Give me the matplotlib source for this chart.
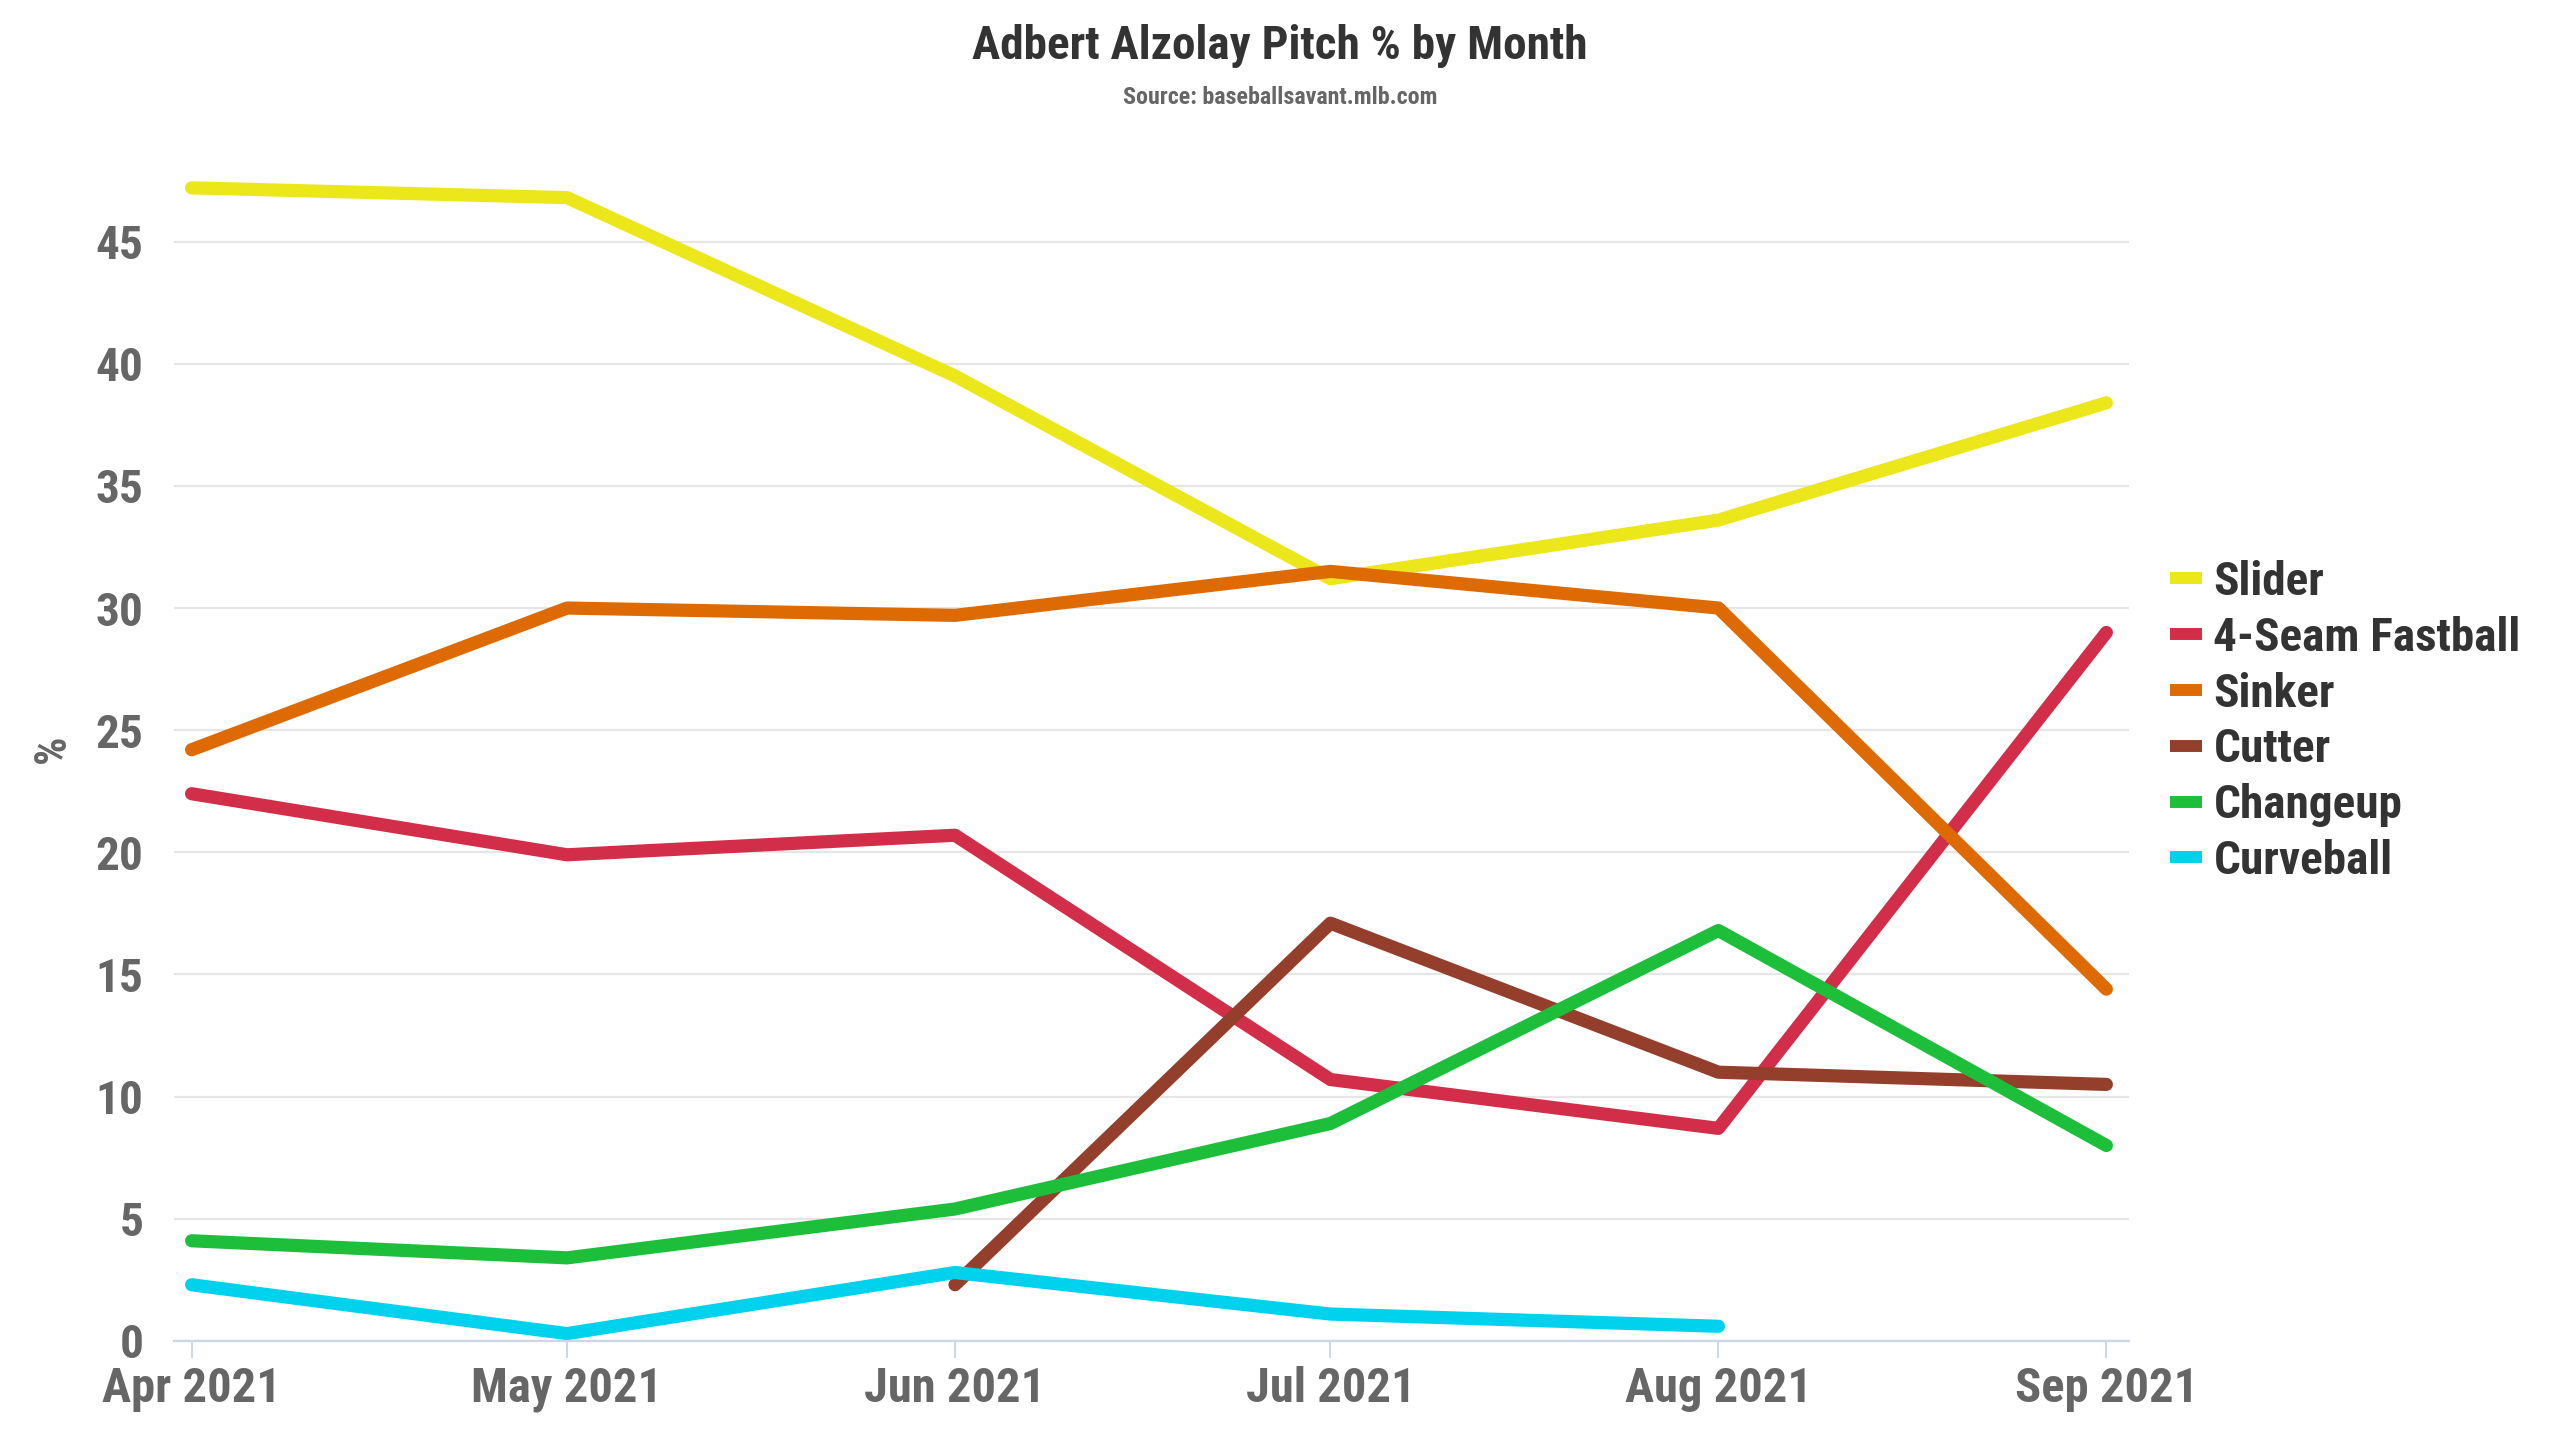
import numpy as np
import pandas as pd
import matplotlib
matplotlib.use("Agg")
import matplotlib.pyplot as plt
import matplotlib.dates as mdates
from matplotlib import font_manager
from matplotlib.lines import Line2D

# data
months = ["2021-04-01", "2021-05-01", "2021-06-01", "2021-07-01", "2021-08-01", "2021-09-01"]
pitch_names = ["Slider", "4-Seam Fastball", "Sinker", "Cutter", "Changeup", "Curveball"]
slider = [47.2, 46.8, 39.5, 31.2, 33.6, 38.4]
fastball = [22.4, 19.9, 20.7, 10.7, 8.7, 29.0]
sinker = [24.2, 30.0, 29.7, 31.5, 30.0, 14.4]
cutter = [np.nan, np.nan, 2.3, 17.1, 11.0, 10.5]
changeup = [4.1, 3.4, 5.4, 8.9, 16.8, 8.0]
curveball = [2.3, 0.3, 2.8, 1.1, 0.6, np.nan]
pitch_colors = ["#EBE71A", "#D22D49", "#DE6A04", "#933F2C", "#1DBE3A", "#00D1ED"]

title = "Adbert Alzolay Pitch % by Month"
subtitle = "Source: baseballsavant.mlb.com"

# fonts: condensed looks
names = {f.name for f in font_manager.fontManager.ttflist}
head_font = "Roboto Condensed" if "Roboto Condensed" in names else "Liberation Sans Narrow"
tick_font = "Liberation Sans Narrow" if "Liberation Sans Narrow" in names else head_font

dates = pd.to_datetime(months)
series = [slider, fastball, sinker, cutter, changeup, curveball]

fig = plt.figure(figsize=(25.6, 14.4), dpi=100)
ax = fig.add_axes([0.068, 0.0688, 0.7636, 0.8228])

for vals, name, col in zip(series, pitch_names, pitch_colors):
    ax.plot(dates, vals, color=col, lw=9.5, label=name,
            solid_capstyle="round", solid_joinstyle="round", clip_on=False)

ax.set_ylim(0, 48.5)
ax.set_xlim(dates[0] - pd.Timedelta(days=1.4), dates[-1] + pd.Timedelta(days=1.8))
ax.set_yticks(np.arange(0, 50, 5))
ax.set_xticks(dates)
ax.xaxis.set_major_formatter(mdates.DateFormatter("%b %Y"))

ax.grid(axis="y", color="#e6e6e6", lw=1.6)
ax.set_axisbelow(True)
for s in ["top", "right", "left"]:
    ax.spines[s].set_visible(False)
ax.spines["bottom"].set_color("#ccd6eb")
ax.spines["bottom"].set_linewidth(1.6)

ax.tick_params(axis="x", length=12, width=1.4, color="#ccd6eb", pad=6,
               labelsize=35, labelcolor="#666666")
ax.tick_params(axis="y", length=0, pad=22, labelsize=34, labelcolor="#666666")
for lab in ax.get_xticklabels() + ax.get_yticklabels():
    lab.set_fontfamily(tick_font)
    lab.set_fontweight("bold")

ax.set_ylabel("%", fontsize=32, color="#666666", fontweight="bold",
              fontfamily=tick_font, labelpad=16)

fig.text(0.5, 0.968, title, ha="center", va="center", fontsize=34,
         fontweight="bold", color="#333333", fontfamily=head_font)
fig.text(0.5, 0.932, subtitle, ha="center", va="center", fontsize=17.3,
         fontweight="bold", color="#666666", fontfamily=head_font)

handles = [Line2D([0], [0], color=c, lw=8.6, solid_capstyle="butt") for c in pitch_colors]
leg = fig.legend(handles, pitch_names, loc="center left",
                 bbox_to_anchor=(2170 / 2560, 0.499), bbox_transform=fig.transFigure,
                 frameon=False, borderpad=0, borderaxespad=0,
                 handlelength=0.68, handletextpad=0.24, labelspacing=0.25,
                 prop={"family": head_font, "weight": "bold", "size": 34})
for t in leg.get_texts():
    t.set_color("#333333")

fig.savefig("out.png", dpi=100, facecolor="white")
